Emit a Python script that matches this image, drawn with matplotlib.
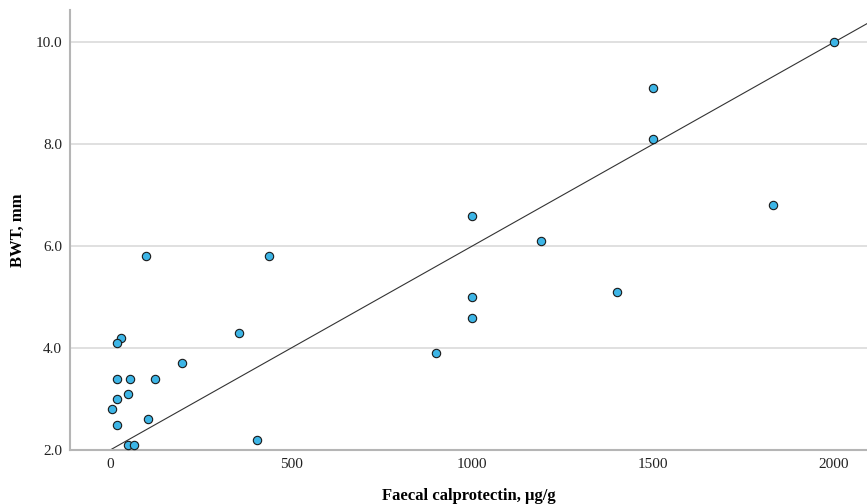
import matplotlib.pyplot as plt
import numpy as np

# faecal calprotectin (ug/g) vs bowel wall thickness (mm)
calpro = [100, 440, 30, 20, 355, 200, 20, 55, 125, 50, 20, 5, 105, 20, 405, 50, 65,
          1000, 1000, 900, 1000, 1190, 1400, 1500, 1500, 1830, 2000]
bwt = [5.8, 5.8, 4.2, 4.1, 4.3, 3.7, 3.4, 3.4, 3.4, 3.1, 3.0, 2.8, 2.6, 2.5, 2.2, 2.1, 2.1,
       5.0, 4.6, 3.9, 6.6, 6.1, 5.1, 9.1, 8.1, 6.8, 10.0]

# fitted line end points
fit_x = [0, 2100]
fit_intercept = 2.0
fit_slope = 0.004

x_ticks = [0, 500, 1000, 1500, 2000]
y_ticks = [2.0, 4.0, 6.0, 8.0, 10.0]

plt.rcParams['font.family'] = ['Liberation Serif', 'DejaVu Serif']

fig = plt.figure(figsize=(8.67, 5.04), dpi=100)
ax = fig.add_axes([0.081, 0.107, 0.919, 0.873])

for yt in y_ticks:
    ax.axhline(yt, color='#dadada', lw=1.2, zorder=0)

fx = np.array(fit_x)
ax.plot(fx, fit_intercept + fit_slope * fx, color='#333333', lw=0.8, zorder=2)

ax.scatter(calpro, bwt, s=36, color='#3db5e6', edgecolors='#1a1a1a', linewidths=0.8, zorder=3)

ax.set_xlim(-110, 2091)
ax.set_ylim(2.0, 10.63)
ax.set_xticks(x_ticks)
ax.set_yticks(y_ticks)
ax.set_yticklabels([f"{v:.1f}" for v in y_ticks])
ax.tick_params(length=0, labelsize=11, pad=6, colors='#222222')

for s in ['top', 'right']:
    ax.spines[s].set_visible(False)
for s in ['left', 'bottom']:
    ax.spines[s].set_color('#b5b5b5')
    ax.spines[s].set_linewidth(1.5)

ax.set_xlabel('Faecal calprotectin, µg/g', fontsize=12, fontweight='bold', labelpad=12)
ax.set_ylabel('BWT, mm', fontsize=12, fontweight='bold', labelpad=7)

fig.savefig('out.png', dpi=100)
